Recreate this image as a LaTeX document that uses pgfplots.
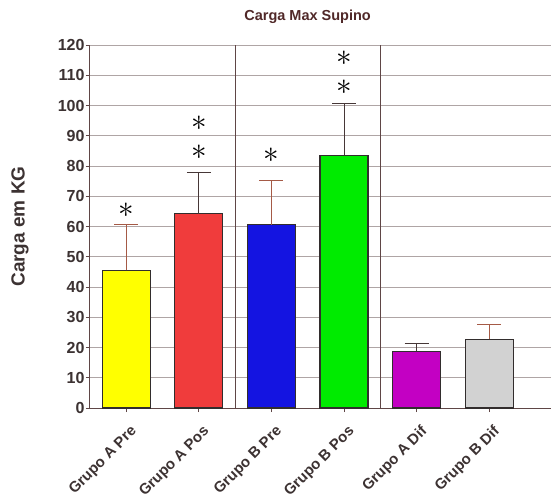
\documentclass[border=0pt]{standalone}
\usepackage{pgfplots}
\pgfplotsset{compat=1.18}
\usepackage{fontspec}
\setmainfont{Liberation Sans}

\definecolor{axbrown}{RGB}{95,70,70}
\definecolor{gridc}{RGB}{175,165,165}
\definecolor{txt}{RGB}{60,50,50}
\definecolor{errA}{RGB}{165,90,70}
\definecolor{errD}{RGB}{70,55,55}
\definecolor{cYel}{RGB}{255,255,0}
\definecolor{cRed}{RGB}{240,60,60}
\definecolor{cBlu}{RGB}{20,20,225}
\definecolor{cGrn}{RGB}{0,235,0}
\definecolor{cPur}{RGB}{195,0,195}
\definecolor{cGry}{RGB}{210,210,210}

% significance mark
\newcommand{\sig}{\scalebox{1.5}{\fontsize{20}{20}\selectfont$\ast$}}

\pgfplotsset{
  barsty/.style={ybar, bar width=48pt, bar shift=0pt,
    draw={rgb,255:red,50;green,45;blue,45}, line width=1.2pt,
    error bars/y dir=plus, error bars/y explicit,
    error bars/error bar style={#1, line width=1pt},
    error bars/error mark options={rotate=90, mark size=12pt, line width=1pt, #1}},
}

\begin{document}
\begin{tikzpicture}
\begin{axis}[
  name=ax,
  scale only axis,
  width=461pt, height=363pt,
  xmin=-0.5, xmax=5.85,
  ymin=0, ymax=120,
  ytick={0,10,...,120},
  xtick={0,1,2,3,4,5},
  xticklabels={Grupo A Pre,Grupo A Pos,Grupo B Pre,Grupo B Pos,Grupo A Dif,Grupo B Dif},
  xticklabel style={rotate=45, anchor=east, font=\bfseries\fontsize{15}{15}\selectfont, text=txt, xshift=-3pt, yshift=-18pt},
  yticklabel style={font=\bfseries\fontsize{16}{16}\selectfont, text=txt, xshift=2pt},
  /pgf/number format/assume math mode=true,
  axis x line*=bottom,
  axis y line*=left,
  axis line style={axbrown, line width=1pt},
  tick style={axbrown, line width=0.8pt},
  tick align=outside,
  major tick length=4pt,
  ymajorgrids,
  grid style={gridc, line width=0.8pt},
  ylabel={Carga em KG},
  ylabel style={at={(axis description cs:-0.152,0.5)}, anchor=center, font=\bfseries\fontsize{19}{19}\selectfont, text=txt},
  title={Carga Max Supino},
  title style={at={(axis description cs:0.472,1)}, yshift=22pt, anchor=center, font=\bfseries\fontsize{14.5}{14.5}\selectfont, text={rgb,255:red,80;green,40;blue,40}},
  clip=false,
]
% group separators
\addplot[axbrown, line width=1pt] coordinates {(1.5,0) (1.5,120)};
\addplot[axbrown, line width=1pt] coordinates {(3.5,0) (3.5,120)};

% bars with upward SD error bars
\addplot[barsty=errA, fill=cYel] coordinates {(0,45.5) +- (0,15.0)};
\addplot[barsty=errD, fill=cRed] coordinates {(1,64.2) +- (0,13.6)};
\addplot[barsty=errA, fill=cBlu] coordinates {(2,60.6) +- (0,14.6)};
\addplot[barsty=errD, fill=cGrn] coordinates {(3,83.5) +- (0,17.3)};
\addplot[barsty=errD, fill=cPur] coordinates {(4,18.7) +- (0,2.7)};
\addplot[barsty=errA, fill=cGry] coordinates {(5,22.7) +- (0,5.0)};

% significance asterisks
\addplot[only marks, mark=none, nodes near coords={\sig},
  every node near coord/.style={anchor=center, text=black}]
  coordinates {(0,65.5) (1,84.6) (1,94.2) (2,83.6) (3,106.1) (3,115.7)};
\end{axis}
\pgfresetboundingbox
\path[use as bounding box] ([xshift=-90pt,yshift=-93pt]ax.south west) rectangle ([yshift=45pt]ax.north east);
\end{tikzpicture}
\end{document}
